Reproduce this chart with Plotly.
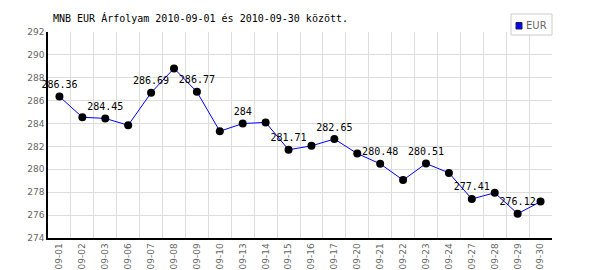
import plotly.graph_objects as go

dates = ["09-01", "09-02", "09-03", "09-06", "09-07", "09-08", "09-09", "09-10",
         "09-13", "09-14", "09-15", "09-16", "09-17", "09-20", "09-21", "09-22",
         "09-23", "09-24", "09-27", "09-28", "09-29", "09-30"]
eur = [286.36, 284.55, 284.45, 283.85, 286.69, 288.82, 286.77, 283.33,
       284.0, 284.1, 281.71, 282.05, 282.65, 281.38, 280.48, 279.06,
       280.51, 279.69, 277.41, 277.95, 276.12, 277.18]
labels = [("%g" % v) if i % 2 == 0 else "" for i, v in enumerate(eur)]
title = "MNB EUR Árfolyam 2010-09-01 és 2010-09-30 között."
series_name = "EUR"

mono = "DejaVu Sans Mono"
sans = "DejaVu Sans"

# plot area in pixels
L, R, T, B = 48, 552, 32, 238


def px(x):
    return (x - L) / (R - L)


def py(y):
    return (B - y) / (B - T)


fig = go.Figure()
fig.add_trace(go.Scatter(
    x=dates, y=eur, mode="lines+markers+text", text=labels,
    textposition="top center",
    textfont=dict(family=mono, size=10, color="#000000"),
    line=dict(color="#0000ff", width=1),
    marker=dict(color="#000000", size=8),
    showlegend=False, cliponaxis=False, name=series_name,
))

# legend box drawn manually
shapes = [
    dict(type="rect", xref="paper", yref="paper",
         x0=px(511), x1=px(552), y0=py(35), y1=py(14),
         line=dict(color="#cccccc", width=1), fillcolor="white", layer="above"),
    dict(type="rect", xref="paper", yref="paper",
         x0=px(516), x1=px(522), y0=py(29), y1=py(22.5),
         line=dict(color="#222244", width=1), fillcolor="#0000ff", layer="above"),
]
annotations = [
    dict(text=series_name, xref="paper", yref="paper", x=px(524), y=py(25),
         xanchor="left", yanchor="middle", showarrow=False,
         font=dict(family=sans, size=10, color="#666666")),
]

fig.update_layout(
    width=600, height=270,
    margin=dict(l=L, r=600 - R, t=T, b=270 - B),
    paper_bgcolor="white", plot_bgcolor="white",
    showlegend=False,
    title=dict(text=title, x=53 / 600, xanchor="left", y=1 - 18 / 270,
               yanchor="middle", font=dict(family=mono, size=10, color="#000000")),
    shapes=shapes, annotations=annotations,
    xaxis=dict(type="category", range=[-0.5, len(dates) - 0.5],
               tickson="boundaries", showgrid=True, gridcolor="#dddddd",
               gridwidth=1, tickangle=-90, ticks="", automargin=False,
               tickfont=dict(family=sans, size=9, color="#666666"),
               showline=True, linecolor="#000000", linewidth=1.5,
               fixedrange=True, zeroline=False, mirror=False),
    yaxis=dict(range=[274, 292], dtick=2, showgrid=True, gridcolor="#dddddd",
               gridwidth=1, ticks="", automargin=False,
               tickfont=dict(family=sans, size=9, color="#666666"),
               showline=True, linecolor="#000000", linewidth=1.5,
               zeroline=False),
)

fig.write_html("out.html")
